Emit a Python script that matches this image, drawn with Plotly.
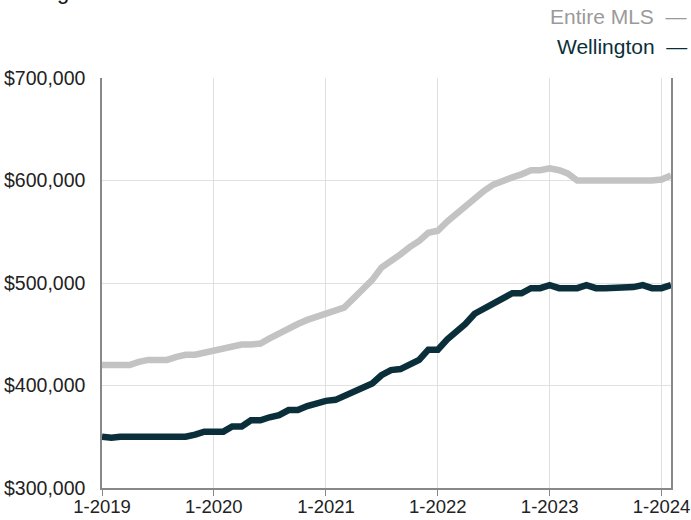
import plotly.graph_objects as go
import pandas as pd

months = [d.strftime("%Y-%m-01") for d in pd.date_range("2019-01-01", "2024-02-01", freq="MS")]

entire_mls = [
    420000, 420000, 420000, 420000, 423000, 425000, 425000, 425000, 428000, 430000, 430000, 432000,
    435000, 437000, 439000, 440000, 440000, 441000, 446000, 451000, 456000, 460000, 464000, 467000,
    470000, 472000, 476000, 485000, 493000, 503000, 515000, 521000, 528000, 535000, 541000, 549000,
    551000, 560000, 567000, 575000, 583000, 590000, 596000, 600000, 603000, 606000, 610000, 610000,
    612000, 610000, 607000, 600000, 600000, 600000, 599000, 600000, 600000, 600000, 600000, 600000,
    601000, 605000,
]
wellington = [
    350000, 349000, 350000, 350000, 350000, 350000, 350000, 350000, 350000, 350000, 352000, 355000,
    355000, 355000, 360000, 360000, 366000, 366000, 369000, 371000, 376000, 376000, 380000, 383000,
    385000, 386000, 390000, 395000, 398000, 402000, 410000, 415000, 416000, 420000, 425000, 435000,
    435000, 445000, 452000, 460000, 470000, 475000, 480000, 485000, 490000, 490000, 495000, 495000,
    498000, 495000, 495000, 495000, 498000, 495000, 495000, 495000, 495000, 496000, 498000, 495000,
    495000, 498000,
]

x_tick_vals = ["2019-01-01", "2020-01-01", "2021-01-01", "2022-01-01", "2023-01-01", "2024-01-01"]
x_tick_text = ["1-2019", "1-2020", "1-2021", "1-2022", "1-2023", "1-2024"]
y_tick_vals = [300000, 400000, 500000, 600000, 700000]
y_tick_text = ["$300,000", "$400,000", "$500,000", "$600,000", "$700,000"]

series_names = ["Entire MLS", "Wellington"]
series_colors = ["#c3c3c3", "#0b2f3a"]
label_colors = ["#9a9a9a", "#0b2f3a"]

FONT = "Liberation Sans, Arial, Helvetica, sans-serif"

L, R, T, B = 102, 20, 78, 32
PW, PH = 691 - L - R, 520 - T - B

fig = go.Figure()
for name, vals, col in zip(series_names, [entire_mls, wellington], series_colors):
    fig.add_trace(go.Scatter(x=months, y=vals, mode="lines", name=name,
                             line=dict(color=col, width=6.5), showlegend=False,
                             hoverinfo="skip"))

fig.update_layout(
    width=691, height=520,
    margin=dict(l=L, r=R, t=T, b=B, autoexpand=False),
    paper_bgcolor="white", plot_bgcolor="white",
    font=dict(family=FONT, size=18, color="#222222"),
    xaxis=dict(
        type="date", range=["2019-01-01", "2024-02-01"], automargin=False,
        tickmode="array", tickvals=x_tick_vals, ticktext=x_tick_text,
        showgrid=True, gridcolor="#e0e0e0", gridwidth=1,
        showline=True, linecolor="#888888", linewidth=1.5,
        ticks="outside", ticklen=6, tickcolor="#888888", ticklabelstandoff=-5,
        tickfont=dict(family=FONT, size=18.5, color="#222222"),
        zeroline=False,
    ),
    yaxis=dict(
        range=[300000, 700000], automargin=False,
        tickmode="array", tickvals=y_tick_vals, ticktext=y_tick_text,
        showgrid=True, gridcolor="#e0e0e0", gridwidth=1,
        showline=True, linecolor="#888888", linewidth=1.5, mirror=True,
        ticks="", ticklen=0, ticklabelstandoff=11,
        tickfont=dict(family=FONT, size=19.5, color="#222222"),
        zeroline=False,
    ),
)

# clipped title at top-left
fig.add_annotation(text="Rolling 12-Month Calculation", xref="paper", yref="paper",
                   x=-L / PW, y=1 + (T - 6) / PH, xanchor="left", yanchor="bottom",
                   showarrow=False, font=dict(family=FONT, size=22, color="#111111"))

# legend as text
fig.add_annotation(text=series_names[0] + "  \u2014", xref="paper", yref="paper",
                   x=(689 - L) / PW, y=1 + (T - 16) / PH, xanchor="right", yanchor="middle",
                   showarrow=False, font=dict(family=FONT, size=21, color=label_colors[0]))
fig.add_annotation(text=series_names[1] + "  \u2014", xref="paper", yref="paper",
                   x=(689 - L) / PW, y=1 + (T - 47) / PH, xanchor="right", yanchor="middle",
                   showarrow=False, font=dict(family=FONT, size=21, color=label_colors[1]))

fig.write_html("out.html", config={"displayModeBar": False},
               post_script="document.body.style.margin='0';")
